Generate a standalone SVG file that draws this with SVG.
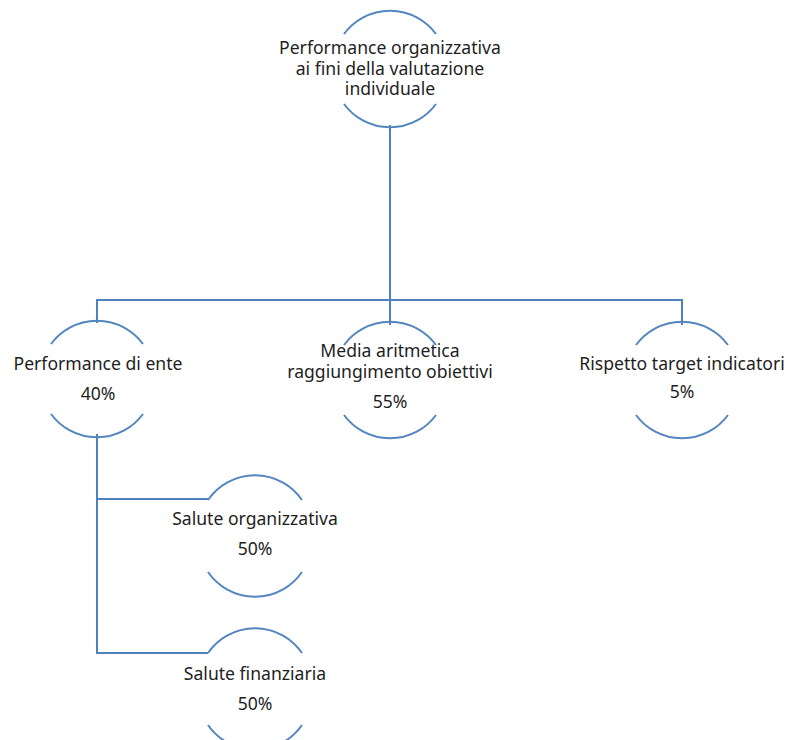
<svg xmlns="http://www.w3.org/2000/svg" width="790" height="740" viewBox="0 0 790 740">
<style>
.arc{fill:none;stroke:#5386c0;stroke-width:2}
.ln{fill:none;stroke:#4f81bd;stroke-width:2}
text{font-family:"Noto Sans","Open Sans",sans-serif;font-size:17.6px;fill:#1e1e1e;text-anchor:middle}
</style>
<rect width="790" height="740" fill="#ffffff"/>
<g id="connectors">
<path class="ln" d="M390,125 V300 M97,323 V300 H682 V325 M390,300 V325"/>
<path class="ln" d="M97,434 V653 H208 M97,499 H208"/>
</g>
<g id="n-root">
<path class="arc" d="M344,34 A57,57 0 0 1 436,34 M344,104 A57,57 0 0 0 436,104"/>
<text x="390" y="54">Performance organizzativa</text>
<text x="390" y="75">ai fini della valutazione</text>
<text x="390" y="95">individuale</text>
</g>
<g id="n-ente">
<path class="arc" d="M51,344 A57,57 0 0 1 143,344 M51,414 A57,57 0 0 0 143,414"/>
<text x="98" y="370">Performance di ente</text>
<text x="98" y="400">40%</text>
</g>
<g id="n-media">
<path class="arc" d="M344,345 A57,57 0 0 1 436,345 M344,415 A57,57 0 0 0 436,415"/>
<text x="390" y="357">Media aritmetica</text>
<text x="390" y="378">raggiungimento obiettivi</text>
<text x="390" y="408">55%</text>
</g>
<g id="n-rispetto">
<path class="arc" d="M636,345 A57,57 0 0 1 728,345 M636,415 A57,57 0 0 0 728,415"/>
<text x="682" y="370">Rispetto target indicatori</text>
<text x="682" y="398">5%</text>
</g>
<g id="n-salorg">
<path class="arc" d="M208,500 A57,57 0 0 1 302,500 M208,572 A57,57 0 0 0 302,572"/>
<text x="255" y="525">Salute organizzativa</text>
<text x="255" y="555">50%</text>
</g>
<g id="n-salfin">
<path class="arc" d="M208,653 A57,57 0 0 1 302,653 M208,725 A57,57 0 0 0 302,725"/>
<text x="255" y="680">Salute finanziaria</text>
<text x="255" y="710">50%</text>
</g>
</svg>
